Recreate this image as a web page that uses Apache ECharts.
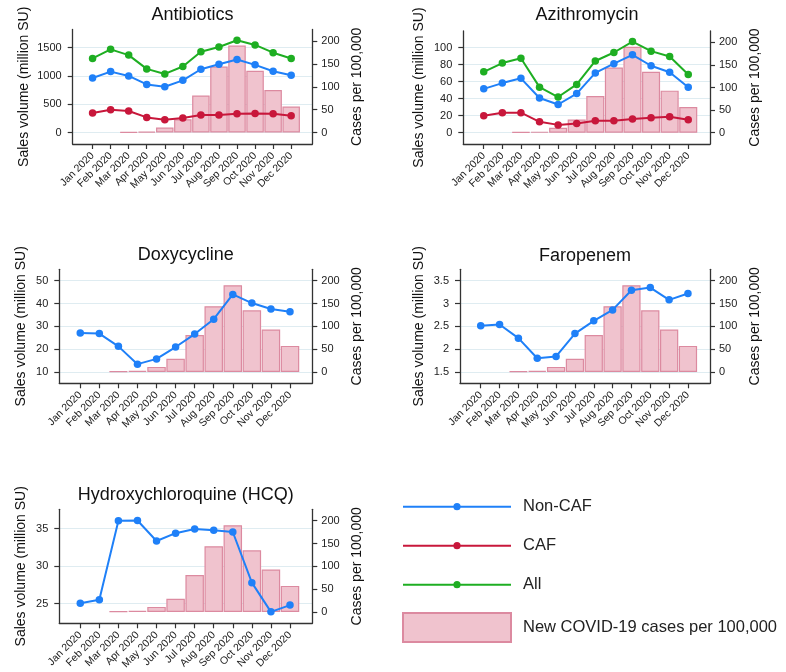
<!DOCTYPE html>
<html>
<head>
<meta charset="utf-8">
<script src="https://cdn.jsdelivr.net/npm/echarts@6/dist/echarts.min.js"></script>
<style>
html,body{margin:0;padding:0;background:#fff;}
#chart{width:786px;height:672px;}
</style>
</head>
<body>
<div id="chart"></div>
<script>
// ---------- data ----------
const months = ['Jan 2020','Feb 2020','Mar 2020','Apr 2020','May 2020','Jun 2020','Jul 2020','Aug 2020','Sep 2020','Oct 2020','Nov 2020','Dec 2020'];
const casesPer100k = [null, null, 1, 2, 11, 29, 81, 144, 190, 135, 93, 57];

const antibioticsNonCAF = [964, 1077, 1000, 851, 809, 923, 1119, 1208, 1292, 1196, 1083, 1012];
const antibioticsCAF    = [345, 405, 381, 268, 226, 256, 310, 310, 333, 339, 333, 298];
const antibioticsAll    = [1309, 1470, 1369, 1125, 1036, 1167, 1428, 1512, 1631, 1548, 1411, 1309];

const azithroNonCAF = [51.6, 58.4, 64.0, 40.8, 33.2, 46.0, 70.4, 81.2, 91.6, 78.8, 71.2, 53.6];
const azithroCAF    = [20.0, 23.6, 23.6, 12.8, 9.2, 10.8, 14.0, 14.0, 16.0, 17.6, 18.8, 15.2];
const azithroAll    = [71.6, 82.0, 87.6, 53.6, 42.0, 56.8, 84.4, 94.4, 107.2, 96.0, 89.6, 68.4];

const doxyNonCAF = [27.1, 26.8, 21.2, 13.4, 15.7, 20.9, 26.6, 33.1, 44.0, 40.2, 37.6, 36.4];
const faroNonCAF = [2.51, 2.54, 2.24, 1.80, 1.84, 2.34, 2.62, 2.86, 3.29, 3.35, 3.08, 3.22];
const hcqNonCAF  = [25.04, 25.5, 36.07, 36.1, 33.36, 34.4, 34.96, 34.8, 34.56, 27.8, 23.9, 24.8];

const titles = ['Antibiotics', 'Azithromycin', 'Doxycycline', 'Faropenem', 'Hydroxychloroquine (HCQ)'];
const leftTicks = [
  [0, 500, 1000, 1500],
  [0, 20, 40, 60, 80, 100],
  [10, 20, 30, 40, 50],
  [1.5, 2, 2.5, 3, 3.5],
  [25, 30, 35]
];
const rightTicks = [0, 50, 100, 150, 200];
const leftNames = 'Sales volume (million SU)';
const rightName = 'Cases per 100,000';
const seriesNames = ['Non-CAF', 'CAF', 'All'];
const barName = 'New COVID-19 cases per 100,000';

// ---------- layout / style ----------
const panels = [
  {left: 72.7, top: 29.5, width: 239.6, height: 114.5, ymin: -202, ymax: 1821, nameGapL: 42, titleX: 192.5, titleY: 15.5,
   lines: [antibioticsNonCAF, antibioticsCAF, antibioticsAll]},
  {left: 463.3, top: 31, width: 246.7, height: 113, ymin: -13.3, ymax: 119.7, nameGapL: 37, titleX: 587, titleY: 15.5,
   lines: [azithroNonCAF, azithroCAF, azithroAll]},
  {left: 59.3, top: 269.3, width: 253, height: 114, ymin: 5, ymax: 55, nameGapL: 31, titleX: 185.8, titleY: 255.5,
   lines: [doxyNonCAF]},
  {left: 460, top: 269.3, width: 250, height: 114, ymin: 1.25, ymax: 3.75, nameGapL: 34, titleX: 585, titleY: 256,
   lines: [faroNonCAF]},
  {left: 59.3, top: 509.3, width: 253, height: 114, ymin: 22.37, ymax: 37.59, nameGapL: 31, titleX: 185.8, titleY: 495.5,
   lines: [hcqNonCAF]}
];
const lineColors = ['#1f80f8', '#c8173b', '#1eae22'];
const XMIN = -1.1, XMAX = 12.17;
const FONT = '"Liberation Sans", Arial, Helvetica, sans-serif';
const axisColor = '#333';

const grid = [], xAxis = [], yAxis = [], series = [], title = [];
const monthIdx = months.map((m, i) => i);

panels.forEach((p, k) => {
  grid.push({left: p.left, top: p.top, width: p.width, height: p.height, containLabel: false});
  title.push({text: titles[k], left: p.titleX, top: p.titleY, textAlign: 'center', textVerticalAlign: 'middle', padding: 0,
    textStyle: {fontFamily: FONT, fontSize: 18, fontWeight: 'normal', color: '#111'}});
  xAxis.push({
    type: 'value', gridIndex: k, min: XMIN, max: XMAX,
    axisLine: {show: true, onZero: false, lineStyle: {color: axisColor, width: 1.3}},
    axisTick: {show: true, length: 5, customValues: monthIdx, lineStyle: {color: axisColor, width: 1.2}},
    axisLabel: {show: true, customValues: monthIdx, rotate: 45, margin: 10, fontFamily: FONT, fontSize: 10.5, color: '#222',
      formatter: v => months[Math.round(v)] || ''},
    splitLine: {show: false}
  });
  yAxis.push({
    type: 'value', gridIndex: k, position: 'left', min: p.ymin, max: p.ymax,
    name: leftNames, nameLocation: 'middle', nameGap: p.nameGapL,
    nameTextStyle: {fontFamily: FONT, fontSize: 14, color: '#111'},
    axisLine: {show: true, onZero: false, lineStyle: {color: axisColor, width: 1.3}},
    axisTick: {show: true, length: 5, customValues: leftTicks[k], lineStyle: {color: axisColor, width: 1.2}},
    axisLabel: {customValues: leftTicks[k], margin: 11, fontFamily: FONT, fontSize: 11, color: '#222',
      formatter: v => String(v)},
    splitLine: {show: true, lineStyle: {color: '#dfecf1', width: 1.2}}
  });
  yAxis.push({
    type: 'value', gridIndex: k, position: 'right', min: -25, max: 225,
    name: rightName, nameLocation: 'middle', nameGap: 38,
    nameTextStyle: {fontFamily: FONT, fontSize: 14, color: '#111'},
    axisLine: {show: true, onZero: false, lineStyle: {color: axisColor, width: 1.3}},
    axisTick: {show: true, length: 5, customValues: rightTicks, lineStyle: {color: axisColor, width: 1.2}},
    axisLabel: {customValues: rightTicks, margin: 9, fontFamily: FONT, fontSize: 11, color: '#222',
      formatter: v => String(v)},
    splitLine: {show: false}
  });
  const unitPx = p.width / (XMAX - XMIN);
  series.push({
    name: barName, type: 'bar', xAxisIndex: k, yAxisIndex: 2 * k + 1,
    barWidth: unitPx * 0.97, z: 1,
    itemStyle: {color: '#f0c3ce', borderColor: '#dc8aa0', borderWidth: 1.2},
    data: monthIdx.map(i => [i, casesPer100k[i]])
  });
  p.lines.forEach((arr, j) => {
    series.push({
      name: seriesNames[j], type: 'line', xAxisIndex: k, yAxisIndex: 2 * k, z: 3,
      symbol: 'circle', symbolSize: 7.5, showSymbol: true,
      lineStyle: {color: lineColors[j], width: 2},
      itemStyle: {color: lineColors[j]},
      data: monthIdx.map(i => [i, arr[i]])
    });
  });
});

const option = {
  animation: false,
  backgroundColor: '#fff',
  title: title,
  grid: grid,
  xAxis: xAxis,
  yAxis: yAxis,
  legend: [
    {data: seriesNames, orient: 'vertical', left: 397, top: 491.7, itemWidth: 108, itemHeight: 9, itemGap: 19,
     selectedMode: false,
     textStyle: {fontFamily: FONT, fontSize: 16.5, color: '#222', lineHeight: 20, padding: [0, 0, 0, 7]}},
    {data: [barName], orient: 'vertical', left: 397, top: 607, itemWidth: 108, itemHeight: 29,
     icon: 'rect', selectedMode: false,
     textStyle: {fontFamily: FONT, fontSize: 16.5, color: '#222', padding: [0, 0, 0, 7]}}
  ],
  series: series
};

const chart = echarts.init(document.getElementById('chart'), null, {renderer: 'canvas'});
chart.setOption(option);
</script>
</body>
</html>
